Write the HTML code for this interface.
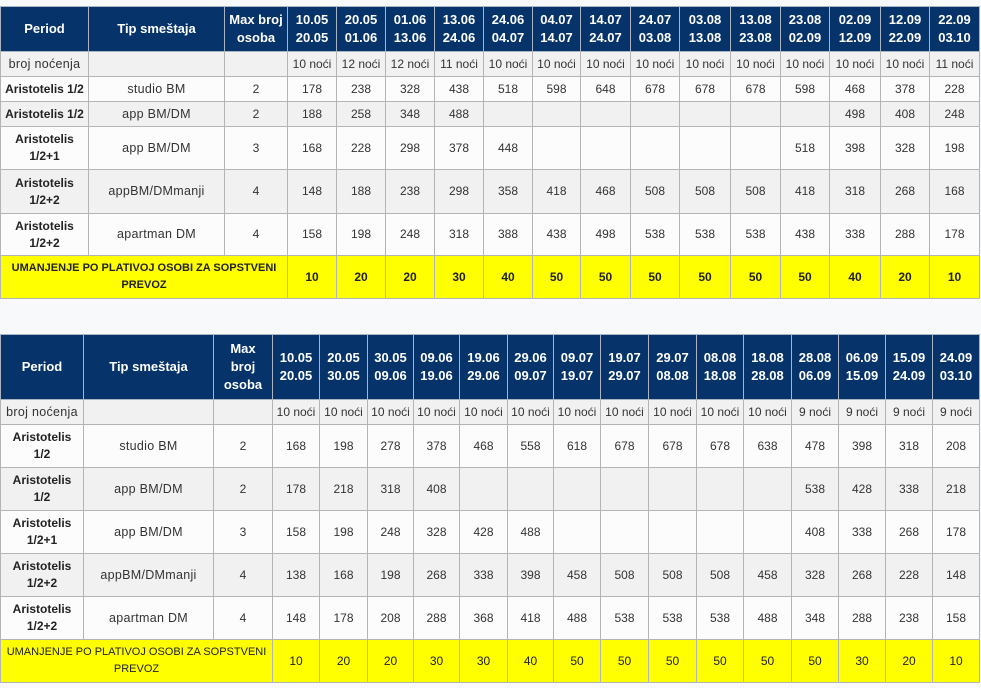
<!DOCTYPE html>
<html><head><meta charset="utf-8">
<style>
html,body{margin:0;padding:0;background:#f8f9fb;width:981px;height:688px;overflow:hidden;}
table{position:absolute;left:0;border-collapse:collapse;table-layout:fixed;font-family:"Liberation Sans",Arial,sans-serif;}
td,th{border:1px solid #b4b4b4;padding:0 2px;text-align:center;vertical-align:middle;overflow:hidden;white-space:nowrap;}
th{background:#05336a;color:#fff;font-weight:bold;font-size:13px;line-height:18px;border-color:#a9b3c2;}
td{font-size:12px;color:#333;line-height:17px;}
td.t{font-size:12.5px;letter-spacing:0.3px;}
.g td{background:#f1f1f1;}
.w td{background:#fcfcfc;}
td.n{font-weight:bold;color:#222;}
.y td{background:#ffff00;color:#222;font-size:12px;}
#t1 .y td{font-weight:bold;}
.y td.l{font-size:11px;}
#t1{top:6px;width:979px;}
#t2{top:334px;width:979px;}
</style></head><body>
<table id="t1">
<colgroup><col style="width:88px"><col style="width:136px"><col style="width:63px"><col style="width:49px"><col style="width:49px"><col style="width:49px"><col style="width:49px"><col style="width:49px"><col style="width:48px"><col style="width:50px"><col style="width:49px"><col style="width:51px"><col style="width:50px"><col style="width:49px"><col style="width:51px"><col style="width:49px"><col style="width:50px"></colgroup>
<tr style="height:45px"><th>Period</th><th>Tip smeštaja</th><th>Max broj<br>osoba</th><th>10.05<br>20.05</th><th>20.05<br>01.06</th><th>01.06<br>13.06</th><th>13.06<br>24.06</th><th>24.06<br>04.07</th><th>04.07<br>14.07</th><th>14.07<br>24.07</th><th>24.07<br>03.08</th><th>03.08<br>13.08</th><th>13.08<br>23.08</th><th>23.08<br>02.09</th><th>02.09<br>12.09</th><th>12.09<br>22.09</th><th>22.09<br>03.10</th></tr>
<tr class="g" style="height:25px"><td class="t">broj noćenja</td><td></td><td></td><td>10 noći</td><td>12 noći</td><td>12 noći</td><td>11 noći</td><td>10 noći</td><td>10 noći</td><td>10 noći</td><td>10 noći</td><td>10 noći</td><td>10 noći</td><td>10 noći</td><td>10 noći</td><td>10 noći</td><td>11 noći</td></tr>
<tr class="w" style="height:25px"><td class="n">Aristotelis 1/2</td><td class="t">studio BM</td><td>2</td><td>178</td><td>238</td><td>328</td><td>438</td><td>518</td><td>598</td><td>648</td><td>678</td><td>678</td><td>678</td><td>598</td><td>468</td><td>378</td><td>228</td></tr>
<tr class="g" style="height:25px"><td class="n">Aristotelis 1/2</td><td class="t">app BM/DM</td><td>2</td><td>188</td><td>258</td><td>348</td><td>488</td><td></td><td></td><td></td><td></td><td></td><td></td><td></td><td>498</td><td>408</td><td>248</td></tr>
<tr class="w" style="height:43px"><td class="n">Aristotelis<br>1/2+1</td><td class="t">app BM/DM</td><td>3</td><td>168</td><td>228</td><td>298</td><td>378</td><td>448</td><td></td><td></td><td></td><td></td><td></td><td>518</td><td>398</td><td>328</td><td>198</td></tr>
<tr class="g" style="height:44px"><td class="n">Aristotelis<br>1/2+2</td><td class="t">appBM/DMmanji</td><td>4</td><td>148</td><td>188</td><td>238</td><td>298</td><td>358</td><td>418</td><td>468</td><td>508</td><td>508</td><td>508</td><td>418</td><td>318</td><td>268</td><td>168</td></tr>
<tr class="w" style="height:42px"><td class="n">Aristotelis<br>1/2+2</td><td class="t">apartman DM</td><td>4</td><td>158</td><td>198</td><td>248</td><td>318</td><td>388</td><td>438</td><td>498</td><td>538</td><td>538</td><td>538</td><td>438</td><td>338</td><td>288</td><td>178</td></tr>
<tr class="y" style="height:43px"><td class="l" colspan="3">UMANJENJE PO PLATIVOJ OSOBI ZA SOPSTVENI<br>PREVOZ</td><td>10</td><td>20</td><td>20</td><td>30</td><td>40</td><td>50</td><td>50</td><td>50</td><td>50</td><td>50</td><td>50</td><td>40</td><td>20</td><td>10</td></tr>
</table>

<table id="t2">
<colgroup><col style="width:83px"><col style="width:130px"><col style="width:59px"><col style="width:47px"><col style="width:48px"><col style="width:46px"><col style="width:46px"><col style="width:48px"><col style="width:46px"><col style="width:47px"><col style="width:48px"><col style="width:48px"><col style="width:47px"><col style="width:48px"><col style="width:47px"><col style="width:47px"><col style="width:47px"><col style="width:47px"></colgroup>
<tr style="height:65px"><th>Period</th><th>Tip smeštaja</th><th>Max<br>broj<br>osoba</th><th>10.05<br>20.05</th><th>20.05<br>30.05</th><th>30.05<br>09.06</th><th>09.06<br>19.06</th><th>19.06<br>29.06</th><th>29.06<br>09.07</th><th>09.07<br>19.07</th><th>19.07<br>29.07</th><th>29.07<br>08.08</th><th>08.08<br>18.08</th><th>18.08<br>28.08</th><th>28.08<br>06.09</th><th>06.09<br>15.09</th><th>15.09<br>24.09</th><th>24.09<br>03.10</th></tr>
<tr class="g" style="height:25px"><td class="t">broj noćenja</td><td></td><td></td><td>10 noći</td><td>10 noći</td><td>10 noći</td><td>10 noći</td><td>10 noći</td><td>10 noći</td><td>10 noći</td><td>10 noći</td><td>10 noći</td><td>10 noći</td><td>10 noći</td><td>9 noći</td><td>9 noći</td><td>9 noći</td><td>9 noći</td></tr>
<tr class="w" style="height:43px"><td class="n">Aristotelis<br>1/2</td><td class="t">studio BM</td><td>2</td><td>168</td><td>198</td><td>278</td><td>378</td><td>468</td><td>558</td><td>618</td><td>678</td><td>678</td><td>678</td><td>638</td><td>478</td><td>398</td><td>318</td><td>208</td></tr>
<tr class="g" style="height:43px"><td class="n">Aristotelis<br>1/2</td><td class="t">app BM/DM</td><td>2</td><td>178</td><td>218</td><td>318</td><td>408</td><td></td><td></td><td></td><td></td><td></td><td></td><td></td><td>538</td><td>428</td><td>338</td><td>218</td></tr>
<tr class="w" style="height:43px"><td class="n">Aristotelis<br>1/2+1</td><td class="t">app BM/DM</td><td>3</td><td>158</td><td>198</td><td>248</td><td>328</td><td>428</td><td>488</td><td></td><td></td><td></td><td></td><td></td><td>408</td><td>338</td><td>268</td><td>178</td></tr>
<tr class="g" style="height:43px"><td class="n">Aristotelis<br>1/2+2</td><td class="t">appBM/DMmanji</td><td>4</td><td>138</td><td>168</td><td>198</td><td>268</td><td>338</td><td>398</td><td>458</td><td>508</td><td>508</td><td>508</td><td>458</td><td>328</td><td>268</td><td>228</td><td>148</td></tr>
<tr class="w" style="height:43px"><td class="n">Aristotelis<br>1/2+2</td><td class="t">apartman DM</td><td>4</td><td>148</td><td>178</td><td>208</td><td>288</td><td>368</td><td>418</td><td>488</td><td>538</td><td>538</td><td>538</td><td>488</td><td>348</td><td>288</td><td>238</td><td>158</td></tr>
<tr class="y" style="height:43px"><td class="l" colspan="3">UMANJENJE PO PLATIVOJ OSOBI ZA SOPSTVENI<br>PREVOZ</td><td>10</td><td>20</td><td>20</td><td>30</td><td>30</td><td>40</td><td>50</td><td>50</td><td>50</td><td>50</td><td>50</td><td>50</td><td>30</td><td>20</td><td>10</td></tr>
</table>
</body></html>
